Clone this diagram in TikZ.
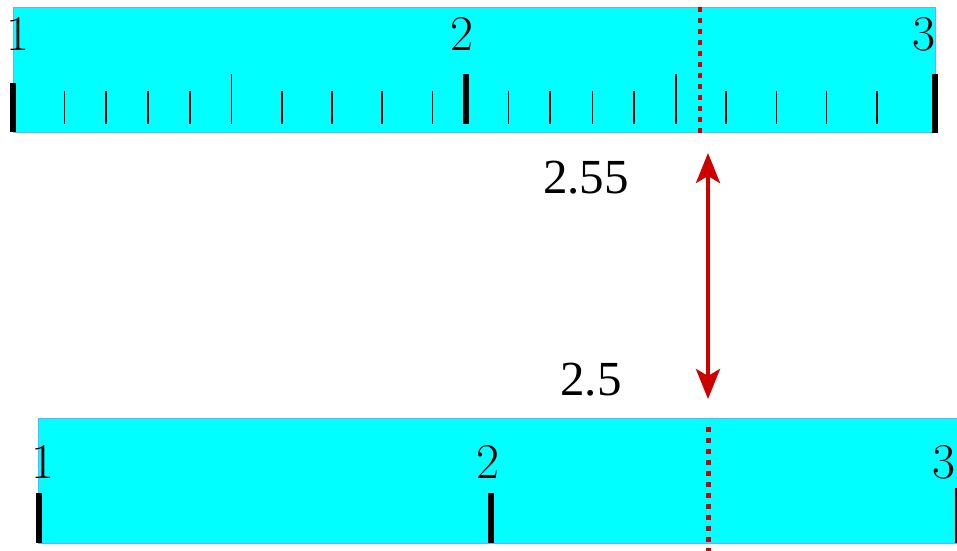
\documentclass[tikz,border=0pt]{standalone}
\usepackage{fontspec}
\newfontfamily\lblfont{Liberation Serif}
\usetikzlibrary{arrows.meta}
\definecolor{rulerfill}{RGB}{0,255,255}
\definecolor{rulerline}{RGB}{110,170,255}
\definecolor{markred}{RGB}{204,0,0}
\tikzset{
  rulerbox/.style={fill=rulerfill,draw=rulerline,line width=1pt},
  majortick/.style={line width=6pt,black},
  minortick/.style={line width=1.5pt,black},
  marker/.style={markred,line width=4.7pt,dash pattern=on 4.7pt off 6.3pt},
  digit/.style={inner sep=0pt,anchor=base,font=\fontsize{50}{50}\selectfont},
  vallabel/.style={inner sep=0pt,anchor=base,font=\lblfont\fontsize{49}{49}\selectfont},
  gap/.style={markred,line width=4pt,{Stealth[length=30pt,width=24pt,inset=7pt]}-{Stealth[length=30pt,width=24pt,inset=7pt]}}
}
\begin{document}
\begin{tikzpicture}[x=1pt,y=-1pt]
\useasboundingbox (0,0) rectangle (957,550);
\clip (0,0) rectangle (957,550);
% top ruler
\draw[rulerbox] (13,7) rectangle (935,132);
\draw[majortick] (12.7,83) -- (12.7,132);
\draw[majortick] (466,74) -- (466,124);
\draw[majortick] (934.5,74) -- (934.5,133);
\foreach \x in {64.3,106,148,190,282,332,382,432.7,508.3,550,592.3,634,726,776.3,826.7,877}
  \draw[minortick] (\x,90.7) -- (\x,124);
\foreach \x in {231.7,676}
  \draw[minortick] (\x,74) -- (\x,124);
\node[digit] (t1) at (18,50) {1};
\node[digit] (t2) at (462,50) {2};
\node[digit] (t3) at (924,50) {3};
\draw[marker] (700,7) -- (700,133);
% bottom ruler
\draw[rulerbox] (38.7,418) rectangle (970,543);
\draw[majortick] (38.5,493) -- (38.5,543);
\draw[majortick] (490.5,493) -- (490.5,543);
\draw[majortick] (958,488) -- (958,543);
\node[digit] (b1) at (43,478) {1};
\node[digit] (b2) at (488,478) {2};
\node[digit] (b3) at (944,478) {3};
\draw[marker] (708.3,427) -- (708.3,556);
% labels and arrow
\node[vallabel] (v255) at (586,193) {2.55};
\node[vallabel] (v25) at (591,395) {2.5};
\coordinate (atop) at (708,153);
\coordinate (abot) at (708,399);
\draw[gap] (atop) -- (abot);
\end{tikzpicture}
\end{document}
